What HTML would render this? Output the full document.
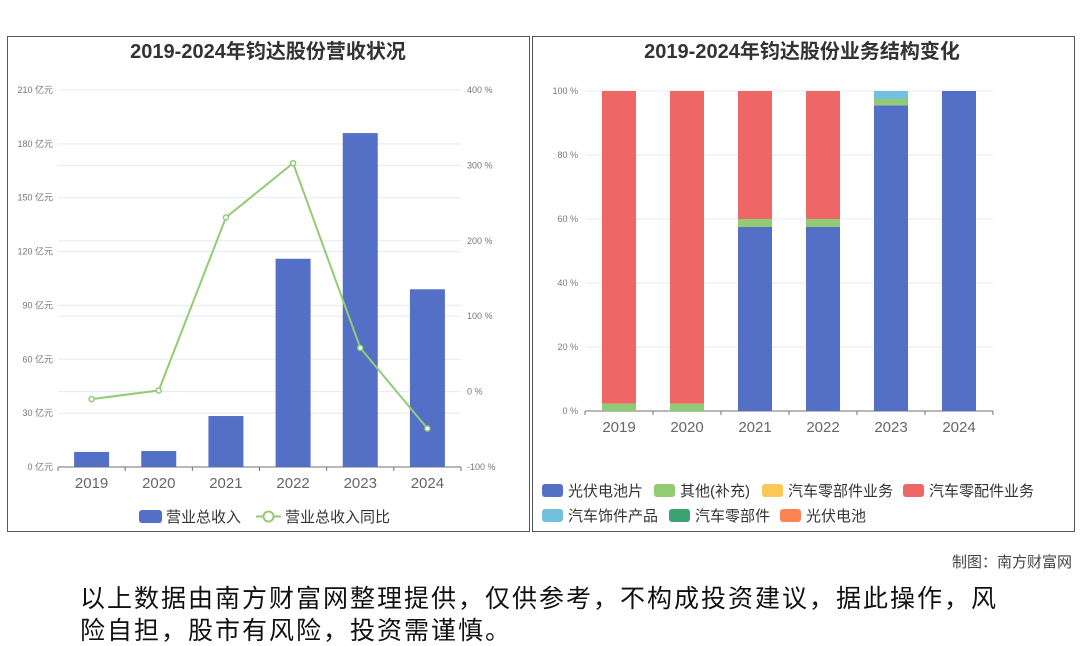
<!DOCTYPE html>
<html><head><meta charset="utf-8"><style>
body{margin:0;width:1080px;height:646px;background:#fff;overflow:hidden;font-family:"Liberation Sans","Noto Sans CJK SC",sans-serif;position:relative}
.panel{position:absolute;border:1px solid #555;background:#fff}
svg text{font-family:"Liberation Sans","Noto Sans CJK SC",sans-serif}
</style></head><body>
<div class="panel" style="left:7px;top:36px;width:521px;height:494px"></div>
<div class="panel" style="left:532px;top:36px;width:541px;height:494px"></div>
<svg id="c" width="1080" height="646" style="position:absolute;left:0;top:0">
<text x="268" y="58" text-anchor="middle" font-size="20" font-weight="bold" fill="#333">2019-2024年钧达股份营收状况</text>
<text x="802" y="58" text-anchor="middle" font-size="20" font-weight="bold" fill="#333">2019-2024年钧达股份业务结构变化</text>
<g id="L"></g><g id="R"></g>
<text x="1072" y="567" text-anchor="end" font-size="15" fill="#444">制图：南方财富网</text>
<text x="80" y="607" font-size="25" letter-spacing="2" fill="#111">以上数据由南方财富网整理提供，仅供参考，不构成投资建议，据此操作，风</text>
<text x="80" y="639" font-size="25" letter-spacing="2" fill="#111">险自担，股市有风险，投资需谨慎。</text>
</svg>
<script>
const years=['2019','2020','2021','2022','2023','2024'];
const revenue=[8.4,8.9,28.4,116,186,99];
const growth=[-10,1.5,231,303,58,-49];
const leftTicks=[0,30,60,90,120,150,180,210];
const rightTicks=[-100,0,100,200,300,400];
const pvCell=[0,0,57.5,57.5,95.5,100];
const other=[2.3,2.3,2.5,2.5,2,0];
const autoParts=[97.7,97.7,40,40,0,0];
const trim=[0,0,0,0,2.5,0];
const pctTicks=[0,20,40,60,80,100];
const NS='http://www.w3.org/2000/svg';
function mk(p,t,a){const e=document.createElementNS(NS,t);for(const k in a)e.setAttribute(k,a[k]);p.appendChild(e);return e;}
const L=document.getElementById('L');
const lx0=58,lx1=461,ly0=467,ly1=90;
const yL=v=>ly0-(v/210)*(ly0-ly1);
const yR=v=>ly0-((v+100)/500)*(ly0-ly1);
const bw=(lx1-lx0)/years.length;
const xc=i=>lx0+bw*(i+0.5);
leftTicks.forEach(t=>{const g=mk(L,'line',{x1:lx0,x2:lx1,y1:yL(t),y2:yL(t),stroke:'#e4e8f2'});

const tx=mk(L,'text',{x:53,y:yL(t)+3,'text-anchor':'end','font-size':9,fill:'#777'});tx.textContent=t+' 亿元';
});
rightTicks.forEach(t=>{const g=mk(L,'line',{x1:lx0,x2:lx1,y1:yR(t),y2:yR(t),stroke:'#e4e8f2'});

const tx=mk(L,'text',{x:467,y:yR(t)+3,'font-size':9,fill:'#777'});tx.textContent=t+' %';
});
mk(L,'line',{x1:lx0,x2:lx1,y1:ly0,y2:ly0,stroke:'#6e7079'});
years.forEach((y,i)=>{
const h=ly0-yL(revenue[i]);
const b=mk(L,'rect',{x:xc(i)-17.5,y:yL(revenue[i]),width:35,height:h,fill:'#5470c6'});

mk(L,'line',{x1:lx0+bw*i,x2:lx0+bw*i,y1:ly0,y2:ly0+4,stroke:'#6e7079'});
const t=mk(L,'text',{x:xc(i),y:488,'text-anchor':'middle','font-size':15,fill:'#666'});t.textContent=y;
});
mk(L,'line',{x1:lx1,x2:lx1,y1:ly0,y2:ly0+4,stroke:'#6e7079'});
const pl=mk(L,'polyline',{points:growth.map((g,i)=>xc(i)+','+yR(g)).join(' '),fill:'none',stroke:'#91cc75','stroke-width':2});

growth.forEach((g,i)=>{const c=mk(L,'circle',{cx:xc(i),cy:yR(g),r:2.5,fill:'#fff',stroke:'#91cc75','stroke-width':1.5});
});
const lg1=mk(L,'rect',{x:139,y:510,width:23,height:13,rx:3,fill:'#5470c6'});

let t1=mk(L,'text',{x:166,y:522,'font-size':15,fill:'#333'});t1.textContent='营业总收入';
mk(L,'line',{x1:256,x2:281,y1:516.5,y2:516.5,stroke:'#91cc75','stroke-width':2});
const lg2=mk(L,'circle',{cx:268.5,cy:516.5,r:5,fill:'#fff',stroke:'#91cc75','stroke-width':2});

let t2=mk(L,'text',{x:285,y:522,'font-size':15,fill:'#333'});t2.textContent='营业总收入同比';
const R=document.getElementById('R');
const rx0=585,rx1=993,ry0=411,ry1=91;
const yP=v=>ry0-(v/100)*(ry0-ry1);
const rbw=(rx1-rx0)/years.length;
const rxc=i=>rx0+rbw*(i+0.5);
pctTicks.forEach(t=>{const g=mk(R,'line',{x1:rx0,x2:rx1,y1:yP(t),y2:yP(t),stroke:'#e4e8f2'});

const tx=mk(R,'text',{x:578,y:yP(t)+3,'text-anchor':'end','font-size':9,fill:'#777'});tx.textContent=t+' %';
});
mk(R,'line',{x1:rx0,x2:rx1,y1:ry0,y2:ry0,stroke:'#6e7079'});
const series=[[pvCell,'#5470c6','pv-cell'],[other,'#91cc75','other'],[autoParts,'#ee6666','auto-parts'],[trim,'#73c0de','auto-trim']];
years.forEach((y,i)=>{let acc=0;
series.forEach(([arr,col,nm])=>{const v=arr[i];if(v>0){const r=mk(R,'rect',{x:rxc(i)-17,y:yP(acc+v),width:34,height:yP(acc)-yP(acc+v),fill:col});
}acc+=v;});
mk(R,'line',{x1:rx0+rbw*i,x2:rx0+rbw*i,y1:ry0,y2:ry0+4,stroke:'#6e7079'});
const t=mk(R,'text',{x:rxc(i),y:432,'text-anchor':'middle','font-size':15,fill:'#666'});t.textContent=y;
});
mk(R,'line',{x1:rx1,x2:rx1,y1:ry0,y2:ry0+4,stroke:'#6e7079'});
const legs=[['光伏电池片','#5470c6',542,491],['其他(补充)','#91cc75',654,491],['汽车零部件业务','#fac858',762,491],['汽车零配件业务','#ee6666',903,491],
['汽车饰件产品','#73c0de',542,516],['汽车零部件','#3ba272',669,516],['光伏电池','#fc8452',780,516]];
legs.forEach(([n,c,x,y])=>{const r=mk(R,'rect',{x:x,y:y-7,width:21,height:13,rx:3,fill:c});

const t=mk(R,'text',{x:x+26,y:y+5,'font-size':15,fill:'#333'});t.textContent=n;});
</script>
</body></html>
